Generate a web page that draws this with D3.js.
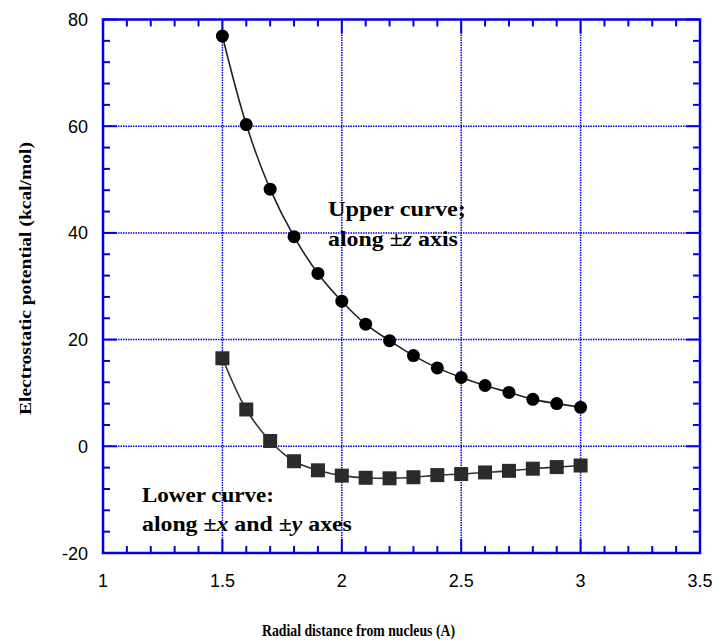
<!DOCTYPE html>
<html>
<head>
<meta charset="utf-8">
<script src="https://cdn.jsdelivr.net/npm/d3@7"></script>
<style>
  body { margin: 0; background: #fff; }
  svg { display: block; }
</style>
</head>
<body>
<svg id="chart" width="717" height="640"></svg>
<script>
// radial distance (A)
const radius = [1.5, 1.6, 1.7, 1.8, 1.9, 2.0, 2.1, 2.2, 2.3, 2.4, 2.5, 2.6, 2.7, 2.8, 2.9, 3.0]
// upper curve, along +-z axis
const upperVals = [76.9, 60.3, 48.2, 39.3, 32.4, 27.2, 22.9, 19.8, 17.0, 14.7, 12.9, 11.4, 10.1, 8.8, 8.0, 7.3]
// lower curve, along +-x and +-y axes
const lowerVals = [16.5, 6.9, 1.0, -2.8, -4.5, -5.5, -5.9, -6.0, -5.8, -5.4, -5.2, -4.9, -4.6, -4.2, -3.9, -3.6]

const xTicks = [1, 1.5, 2, 2.5, 3, 3.5]
const yTicks = [-20, 0, 20, 40, 60, 80]
const xTitle = 'Radial distance from nucleus (A)'
const yTitle = 'Electrostatic potential (kcal/mol)'

const plot = { left: 103, right: 700, top: 19.5, bottom: 553 }
const blue = '#0000e6'

const svg = d3.select('#chart')

const x = d3.scaleLinear().domain([1, 3.5]).range([plot.left, plot.right])
const y = d3.scaleLinear().domain([-20, 80]).range([plot.bottom, plot.top])

// dotted grid at the inner major ticks
const grid = svg.append('g')
grid.selectAll('line.gx')
    .data(xTicks.slice(1, -1))
    .join('line')
    .attr('x1', d => x(d)).attr('x2', d => x(d))
    .attr('y1', plot.top).attr('y2', plot.bottom)
grid.selectAll('line.gy')
    .data(yTicks.slice(1, -1))
    .join('line')
    .attr('y1', d => y(d)).attr('y2', d => y(d))
    .attr('x1', plot.left).attr('x2', plot.right)
grid.selectAll('line')
    .attr('stroke', blue)
    .attr('stroke-width', 1.5)
    .attr('stroke-dasharray', '1.5,1')

// ticks on all four sides, pointing inward
const xMinor = d3.range(10, 36).map(v => v / 10)
const yMinor = d3.range(-20, 81, 4)
const isMajorX = v => Math.abs(v * 2 - Math.round(v * 2)) < 1e-6
const isMajorY = v => v % 20 === 0

const ticks = svg.append('g').attr('stroke', blue).attr('stroke-width', 2)
xMinor.forEach(v => {
    const len = isMajorX(v) ? 14 : 7
    ticks.append('line').attr('x1', x(v)).attr('x2', x(v))
        .attr('y1', plot.bottom).attr('y2', plot.bottom - len)
    ticks.append('line').attr('x1', x(v)).attr('x2', x(v))
        .attr('y1', plot.top).attr('y2', plot.top + len)
})
yMinor.forEach(v => {
    const len = isMajorY(v) ? 14 : 7
    ticks.append('line').attr('y1', y(v)).attr('y2', y(v))
        .attr('x1', plot.left).attr('x2', plot.left + len)
    ticks.append('line').attr('y1', y(v)).attr('y2', y(v))
        .attr('x1', plot.right).attr('x2', plot.right - len)
})

// frame
svg.append('rect')
    .attr('x', plot.left).attr('y', plot.top)
    .attr('width', plot.right - plot.left).attr('height', plot.bottom - plot.top)
    .attr('fill', 'none').attr('stroke', blue).attr('stroke-width', 2.5)

// tick labels
svg.append('g').selectAll('text')
    .data(xTicks)
    .join('text')
    .attr('x', d => x(d)).attr('y', 587)
    .attr('text-anchor', 'middle')
    .attr('font-family', 'Liberation Sans, Arial, sans-serif')
    .attr('font-size', 18)
    .text(d => d)
svg.append('g').selectAll('text')
    .data(yTicks)
    .join('text')
    .attr('x', 88).attr('y', d => y(d) + 6.5)
    .attr('text-anchor', 'end')
    .attr('font-family', 'Liberation Sans, Arial, sans-serif')
    .attr('font-size', 18)
    .text(d => d)

// axis titles
svg.append('text')
    .attr('x', 262).attr('y', 636)
    .attr('font-family', 'Liberation Serif, Times New Roman, serif')
    .attr('font-weight', 'bold').attr('font-size', 17)
    .attr('textLength', 193).attr('lengthAdjust', 'spacingAndGlyphs')
    .text(xTitle)
svg.append('text')
    .attr('transform', 'translate(31,415) rotate(-90)')
    .attr('font-family', 'Liberation Serif, Times New Roman, serif')
    .attr('font-weight', 'bold').attr('font-size', 17)
    .attr('textLength', 273).attr('lengthAdjust', 'spacingAndGlyphs')
    .text(yTitle)

// curves
const line = d3.line()
    .x(d => x(d[0]))
    .y(d => y(d[1]))
    .curve(d3.curveCatmullRom)

const upper = radius.map((r, i) => [r, upperVals[i]])
const lower = radius.map((r, i) => [r, lowerVals[i]])

svg.append('path').datum(upper)
    .attr('fill', 'none').attr('stroke', '#222').attr('stroke-width', 1.6)
    .attr('d', line)
svg.append('path').datum(lower)
    .attr('fill', 'none').attr('stroke', '#333').attr('stroke-width', 1.6)
    .attr('d', line)

svg.append('g').selectAll('circle')
    .data(upper)
    .join('circle')
    .attr('cx', d => x(d[0])).attr('cy', d => y(d[1]))
    .attr('r', 6.5)
    .attr('fill', '#000')

const sq = 14
svg.append('g').selectAll('rect')
    .data(lower)
    .join('rect')
    .attr('x', d => x(d[0]) - sq / 2).attr('y', d => y(d[1]) - sq / 2)
    .attr('width', sq).attr('height', sq)
    .attr('fill', '#2b2b2b')

// annotations, stretched sideways to the reference widths
function note(px, py, width, parts) {
    const t = svg.append('text')
        .attr('x', 0).attr('y', 0)
        .attr('font-family', 'Liberation Serif, Times New Roman, serif')
        .attr('font-weight', 'bold').attr('font-size', 20)
    parts.forEach(p => {
        t.append('tspan').attr('font-style', p[1] ? 'italic' : 'normal').text(p[0])
    })
    const w = t.node().getComputedTextLength()
    t.attr('transform', `translate(${px},${py}) scale(${width / w},1)`)
}
note(328, 216, 138, [['Upper curve;', false]])
note(328, 246, 130, [['along \u00b1', false], ['z', true], [' axis', false]])
note(142, 502, 132, [['Lower curve:', false]])
note(142, 531, 210, [['along \u00b1', false], ['x', true], [' and \u00b1', false], ['y', true], [' axes', false]])
</script>
</body>
</html>
